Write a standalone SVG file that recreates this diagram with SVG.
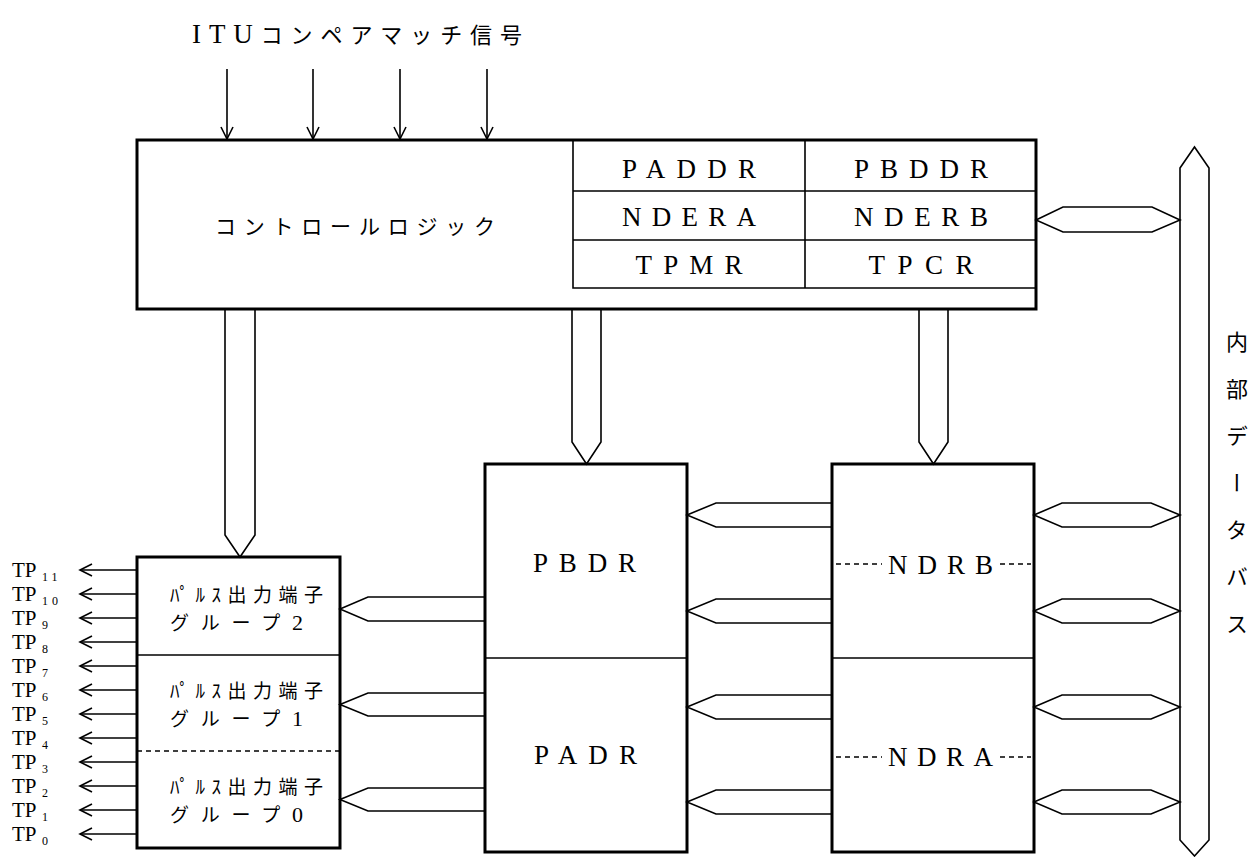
<svg xmlns="http://www.w3.org/2000/svg" width="1259" height="857" viewBox="0 0 1259 857">
<style>
.thick{fill:none;stroke:#000;stroke-width:3}
.thin{fill:none;stroke:#000;stroke-width:1.6}
.dash{fill:none;stroke:#000;stroke-width:1.4;stroke-dasharray:5 4}
.ser{font-family:"Liberation Serif",serif;fill:#000}
.jp{font-family:"Noto Sans CJK JP","Noto Sans CJK SC",sans-serif;fill:#000}
.grp{font-family:"Noto Sans CJK JP","Noto Sans CJK SC",sans-serif;font-size:19px;fill:#000}
.reg{font-family:"Liberation Serif",serif;font-size:27px;fill:#000}
.tp{font-family:"Liberation Serif",serif;font-size:21px;fill:#000}
.sub{font-size:12px}
</style>
<defs>
<marker id="ah" markerUnits="userSpaceOnUse" markerWidth="16" markerHeight="14" refX="14" refY="7" orient="auto" viewBox="0 0 16 14">
<path d="M2,1 L14,7 L2,13" fill="none" stroke="#000" stroke-width="1.6"/>
</marker>
</defs>
<rect width="1259" height="857" fill="#fff"/>

<g id="title">
<text class="jp" x="192" y="43" font-size="22" textLength="330" lengthAdjust="spacing"><tspan class="ser" font-size="27">ITU</tspan>コンペアマッチ信号</text>
</g>

<g id="control-logic">
<rect class="thick" x="137" y="140" width="899" height="169"/>
<text class="jp" x="215" y="234" font-size="21" textLength="280" lengthAdjust="spacing">コントロールロジック</text>
<g id="registers">
<path class="thin" d="M573,140 V288 H1036 M573,191 H1036 M573,240 H1036 M805,140 V288"/>
<text class="reg" x="689" y="178" text-anchor="middle" textLength="134" lengthAdjust="spacing">PADDR</text>
<text class="reg" x="921" y="178" text-anchor="middle" textLength="134" lengthAdjust="spacing">PBDDR</text>
<text class="reg" x="689" y="226" text-anchor="middle" textLength="134" lengthAdjust="spacing">NDERA</text>
<text class="reg" x="921" y="226" text-anchor="middle" textLength="134" lengthAdjust="spacing">NDERB</text>
<text class="reg" x="689" y="274" text-anchor="middle" textLength="107" lengthAdjust="spacing">TPMR</text>
<text class="reg" x="921" y="274" text-anchor="middle" textLength="105" lengthAdjust="spacing">TPCR</text>
</g>
</g>

<g id="pulse-groups">
<rect class="thick" x="137" y="557" width="203" height="291"/>
<line class="thin" x1="137" y1="655" x2="340" y2="655"/>
<line class="dash" x1="137" y1="751" x2="340" y2="751"/>
<text class="grp"><tspan x="170" y="602" textLength="153" lengthAdjust="spacing">ﾊﾟﾙｽ出力端子</tspan><tspan x="170" y="630" textLength="133" lengthAdjust="spacing">グループ<tspan class="ser" font-size="22">2</tspan></tspan></text>
<text class="grp"><tspan x="170" y="698" textLength="153" lengthAdjust="spacing">ﾊﾟﾙｽ出力端子</tspan><tspan x="170" y="726" textLength="133" lengthAdjust="spacing">グループ<tspan class="ser" font-size="22">1</tspan></tspan></text>
<text class="grp"><tspan x="170" y="794" textLength="153" lengthAdjust="spacing">ﾊﾟﾙｽ出力端子</tspan><tspan x="170" y="822" textLength="133" lengthAdjust="spacing">グループ<tspan class="ser" font-size="22">0</tspan></tspan></text>
</g>

<g id="port-registers">
<rect class="thick" x="485" y="464" width="202" height="388"/>
<line class="thin" x1="485" y1="658" x2="687" y2="658"/>
<text class="reg" x="533" y="572" textLength="103" lengthAdjust="spacing">PBDR</text>
<text class="reg" x="534" y="764" textLength="103" lengthAdjust="spacing">PADR</text>
</g>

<g id="next-data-registers">
<rect class="thick" x="832" y="464" width="202" height="388"/>
<line class="thin" x1="832" y1="658" x2="1034" y2="658"/>
<line class="dash" x1="836" y1="564" x2="882" y2="564"/>
<line class="dash" x1="1000" y1="564" x2="1031" y2="564"/>
<line class="dash" x1="836" y1="757" x2="882" y2="757"/>
<line class="dash" x1="1000" y1="757" x2="1031" y2="757"/>
<text class="reg" x="888" y="574" textLength="105" lengthAdjust="spacing">NDRB</text>
<text class="reg" x="888" y="766" textLength="105" lengthAdjust="spacing">NDRA</text>
</g>

<g id="internal-data-bus">
<path class="thin" d="M1180,168 L1194.5,147 L1209,168 V840 L1194.5,856 L1180,840 Z"/>
<text class="jp" x="1237" y="331" font-size="22" writing-mode="vertical-rl" letter-spacing="25">内部データバス</text>
</g>

<g id="tp-labels">
<text class="tp" x="12" y="577">TP<tspan class="sub" x="42" y="581" letter-spacing="4">11</tspan></text>
<text class="tp" x="12" y="601">TP<tspan class="sub" x="42" y="605" letter-spacing="4">10</tspan></text>
<text class="tp" x="12" y="625">TP<tspan class="sub" x="42" y="629">9</tspan></text>
<text class="tp" x="12" y="649">TP<tspan class="sub" x="42" y="653">8</tspan></text>
<text class="tp" x="12" y="673">TP<tspan class="sub" x="42" y="677">7</tspan></text>
<text class="tp" x="12" y="697">TP<tspan class="sub" x="42" y="701">6</tspan></text>
<text class="tp" x="12" y="721">TP<tspan class="sub" x="42" y="725">5</tspan></text>
<text class="tp" x="12" y="745">TP<tspan class="sub" x="42" y="749">4</tspan></text>
<text class="tp" x="12" y="769">TP<tspan class="sub" x="42" y="773">3</tspan></text>
<text class="tp" x="12" y="793">TP<tspan class="sub" x="42" y="797">2</tspan></text>
<text class="tp" x="12" y="817">TP<tspan class="sub" x="42" y="821">1</tspan></text>
<text class="tp" x="12" y="841">TP<tspan class="sub" x="42" y="845">0</tspan></text>
</g>

<g id="connectors">
<g id="itu-arrows" class="thin">
<line x1="227" y1="69" x2="227" y2="139" marker-end="url(#ah)"/>
<line x1="313" y1="69" x2="313" y2="139" marker-end="url(#ah)"/>
<line x1="400" y1="69" x2="400" y2="139" marker-end="url(#ah)"/>
<line x1="487" y1="69" x2="487" y2="139" marker-end="url(#ah)"/>
</g>
<g id="tp-arrows" class="thin">
<line x1="137" y1="570" x2="80" y2="570" marker-end="url(#ah)"/>
<line x1="137" y1="594" x2="80" y2="594" marker-end="url(#ah)"/>
<line x1="137" y1="618" x2="80" y2="618" marker-end="url(#ah)"/>
<line x1="137" y1="642" x2="80" y2="642" marker-end="url(#ah)"/>
<line x1="137" y1="666" x2="80" y2="666" marker-end="url(#ah)"/>
<line x1="137" y1="690" x2="80" y2="690" marker-end="url(#ah)"/>
<line x1="137" y1="714" x2="80" y2="714" marker-end="url(#ah)"/>
<line x1="137" y1="738" x2="80" y2="738" marker-end="url(#ah)"/>
<line x1="137" y1="762" x2="80" y2="762" marker-end="url(#ah)"/>
<line x1="137" y1="786" x2="80" y2="786" marker-end="url(#ah)"/>
<line x1="137" y1="810" x2="80" y2="810" marker-end="url(#ah)"/>
<line x1="137" y1="834" x2="80" y2="834" marker-end="url(#ah)"/>
</g>
<g id="control-buses" class="thin">
<path d="M225,309 V535 L240,557 L255,535 V309"/>
<path d="M572,309 V442 L586.5,464 L601,442 V309"/>
<path d="M919,309 V442 L933.5,464 L948,442 V309"/>
</g>
<g id="port-to-group" class="thin">
<path d="M485,597 H368 L340,609 L368,621 H485"/>
<path d="M485,693 H368 L340,704.5 L368,716 H485"/>
<path d="M485,788 H368 L340,799.5 L368,811 H485"/>
</g>
<g id="ndr-to-port" class="thin">
<path d="M832,503 H716 L687,515 L716,527 H832"/>
<path d="M832,599 H716 L687,611 L716,623 H832"/>
<path d="M832,695 H716 L687,707 L716,719 H832"/>
<path d="M832,790 H716 L687,802 L716,814 H832"/>
</g>
<g id="bus-links" class="thin">
<path d="M1036,220 L1063,207 H1152 L1180,220 L1152,232 H1063 Z"/>
<path d="M1034,515 L1062,503 H1151 L1180,515 L1151,527 H1062 Z"/>
<path d="M1034,611 L1062,599 H1151 L1180,611 L1151,623 H1062 Z"/>
<path d="M1034,707 L1062,695 H1151 L1180,707 L1151,719 H1062 Z"/>
<path d="M1034,802 L1062,790 H1151 L1180,802 L1151,814 H1062 Z"/>
</g>
</g>
</svg>
